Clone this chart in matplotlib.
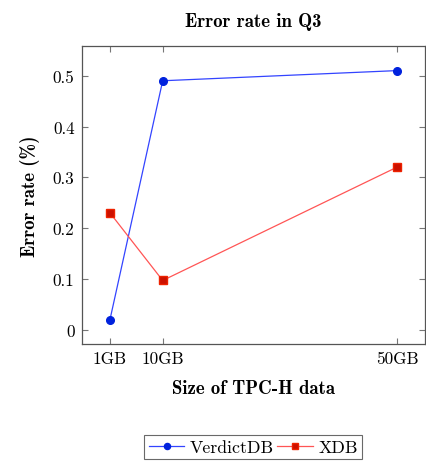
import matplotlib
matplotlib.use("Agg")
import matplotlib.pyplot as plt

sizes = [1, 10, 50]
size_labels = ["1GB", "10GB", "50GB"]
verdict = [0.02, 0.49, 0.51]
xdb = [0.23, 0.097, 0.32]
yticks = [0, 0.1, 0.2, 0.3, 0.4, 0.5]
ytick_labels = ["0", "0.1", "0.2", "0.3", "0.4", "0.5"]

plt.rcParams['font.family'] = ['cmr10', 'DejaVu Serif']
plt.rcParams['axes.unicode_minus'] = False

fig = plt.figure(figsize=(4.26, 4.64), dpi=100)
W, H = 426, 464
ax = fig.add_axes([81.5 / W, 1 - 345 / H, (425 - 81.5) / W, (345 - 46.7) / H])

ax.plot(sizes, verdict, color='#3344ff', lw=0.9, marker='o', ms=5.5,
        mfc='#0022dd', mec='#0022dd', label='VerdictDB')
ax.plot(sizes, xdb, color='#ff5555', lw=0.9, marker='s', ms=5.2,
        mfc='#cc1100', mec='#ee2200', label='XDB')

ax.set_xlim(-3.86, 54.78)
ax.set_ylim(-0.028, 0.559)
ax.set_xticks(sizes)
ax.set_xticklabels(size_labels)
ax.set_yticks(yticks)
ax.set_yticklabels(ytick_labels)
ax.tick_params(direction='in', top=True, right=True, length=4, width=0.8,
               color='#777777', labelsize=12.3, pad=5)
for s in ax.spines.values():
    s.set_color('#555555')
    s.set_linewidth(0.9)

bold = {'family': ['cmb10', 'DejaVu Serif'], 'size': 13.5}
ax.set_title("Error rate in Q3", fontdict=bold, pad=14)
ax.set_xlabel("Size of TPC-H data", fontdict=bold, labelpad=9)
ax.set_ylabel("Error rate (%)", fontdict=bold, labelpad=9)

leg = ax.legend(loc='upper center', bbox_to_anchor=(0.5, -0.305), ncol=2,
                frameon=True, fancybox=False, edgecolor='#444444',
                fontsize=12.8, handlelength=2.0, columnspacing=0.2,
                handletextpad=0.3, borderpad=0.25, borderaxespad=0,
                markerscale=0.8)
leg.get_frame().set_linewidth(0.8)

fig.savefig("out.png", dpi=100)
